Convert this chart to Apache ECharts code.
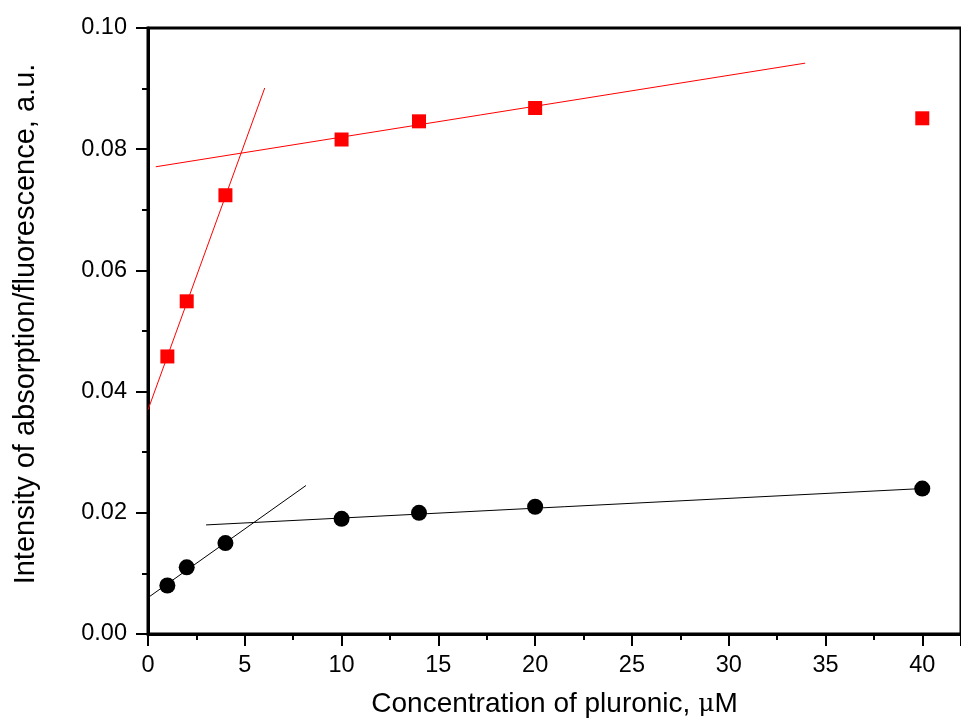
<!DOCTYPE html>
<html>
<head>
<meta charset="utf-8">
<script src="https://cdn.jsdelivr.net/npm/echarts@6/dist/echarts.min.js"></script>
<style>
    html, body { margin: 0; padding: 0; background: #fff; }
    #chart { width: 961px; height: 725px; }
</style>
</head>
<body>
<div id="chart"></div>
<script>
// ---- data
const conc = [1, 2, 4, 10, 14, 20, 40];
const absorption = [0.0458, 0.0549, 0.0724, 0.0816, 0.0846, 0.0868, 0.0851];
const fluorescence = [0.0080, 0.0110, 0.0150, 0.0190, 0.0200, 0.0210, 0.0240];

// fitted lines (end points)
const redFitLow = [[0, 0.0370], [6.03, 0.0901]];
const redFitHigh = [[0.4, 0.0771], [33.95, 0.0942]];
const blackFitLow = [[0, 0.0060], [8.16, 0.0245]];
const blackFitHigh = [[3.0, 0.0180], [40, 0.0240]];

const xTitle = 'Concentration of pluronic, ';
const yTitle = 'Intensity of absorption/fluorescence, a.u.';

function pairs(xs, ys) {
    return xs.map(function (x, i) { return [x, ys[i]]; });
}

function fitLine(data, color) {
    return {
        type: 'line',
        data: data,
        symbol: 'none',
        silent: true,
        lineStyle: { color: color, width: 1 },
        z: 2
    };
}

var myChart = echarts.init(document.getElementById('chart'));
var option = {
    animation: false,
    backgroundColor: '#fff',
    textStyle: { fontFamily: 'Liberation Sans, Arial, sans-serif' },
    grid: {
        left: 148,
        top: 28,
        width: 815,
        height: 606,
        show: true,
        borderColor: '#000',
        borderWidth: 3,
        backgroundColor: 'transparent'
    },
    xAxis: {
        type: 'value',
        min: 0,
        max: 42,
        interval: 5,
        name: xTitle + '{mu|\u03bc}M',
        nameLocation: 'middle',
        nameGap: 56,
        nameTextStyle: {
            fontSize: 28,
            color: '#000',
            rich: {
                mu: { fontSize: 25, fontFamily: 'DejaVu Serif, serif', color: '#000' }
            }
        },
        axisLine: { lineStyle: { color: '#000', width: 3 } },
        axisTick: { inside: false, length: 12, lineStyle: { color: '#000', width: 2 } },
        minorTick: { show: true, splitNumber: 2, length: 6, lineStyle: { color: '#000', width: 2 } },
        axisLabel: { fontSize: 23.5, color: '#000', margin: 20, showMaxLabel: false },
        splitLine: { show: false }
    },
    yAxis: {
        type: 'value',
        min: 0,
        max: 0.10,
        interval: 0.02,
        name: yTitle,
        nameLocation: 'middle',
        nameGap: 108,
        nameTextStyle: { fontSize: 29, color: '#000', padding: [0, 0, 0, 14] },
        axisLine: { lineStyle: { color: '#000', width: 3 } },
        axisTick: { inside: false, length: 12, lineStyle: { color: '#000', width: 2 } },
        minorTick: { show: true, splitNumber: 2, length: 6, lineStyle: { color: '#000', width: 2 } },
        axisLabel: {
            fontSize: 23.5,
            color: '#000',
            margin: 21,
            formatter: function (v) { return v.toFixed(2); }
        },
        splitLine: { show: false }
    },
    series: [
        fitLine(redFitLow, '#ff0000'),
        fitLine(redFitHigh, '#ff0000'),
        fitLine(blackFitLow, '#000000'),
        fitLine(blackFitHigh, '#000000'),
        {
            type: 'scatter',
            data: pairs(conc, absorption),
            symbol: 'rect',
            symbolSize: 14,
            itemStyle: { color: '#ff0000', opacity: 1 },
            z: 3
        },
        {
            type: 'scatter',
            data: pairs(conc, fluorescence),
            symbol: 'circle',
            symbolSize: 16,
            itemStyle: { color: '#000000', opacity: 1 },
            z: 3
        }
    ]
};
myChart.setOption(option);
</script>
</body>
</html>
